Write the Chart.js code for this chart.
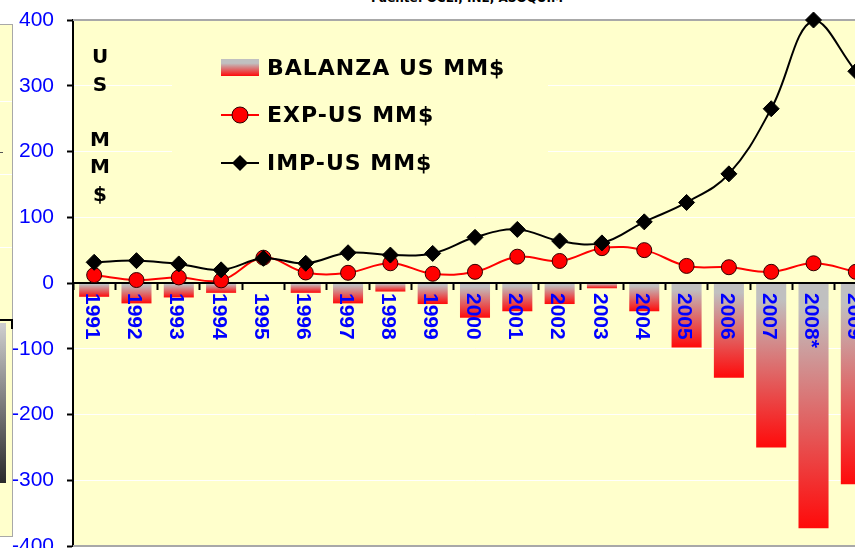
<!DOCTYPE html>
<html>
<head>
<meta charset="utf-8">
<script src="https://cdn.jsdelivr.net/npm/chart.js@4.4.1/dist/chart.umd.min.js"></script>
<style>
  html, body { margin: 0; padding: 0; background: #fff; overflow: hidden; width: 855px; height: 548px; }
  #wrap { position: absolute; left: 0; top: 0; width: 886px; height: 570px; }
  #fuente { position: absolute; left: 467px; top: -9px; transform: translateX(-50%); white-space: nowrap;
    font: bold 12px "DejaVu Sans", sans-serif; line-height: 14px; color: #000; }
  /* piece of the neighbouring chart cut off at the left */
  #left { position: absolute; left: 0; top: 24px; width: 12px; height: 511px; background: #ffffcc;
    border-top: 1px solid #a8a8a8; border-right: 1px solid #a8a8a8; border-bottom: 1px solid #a8a8a8; }
  #left .g { position: absolute; left: 0; width: 12px; height: 1px; background: #fff; }
  #left .tk { position: absolute; left: 0; top: 127px; width: 3px; height: 1px; background: #555; }
  #left .edge { position: absolute; left: 0; top: 294px; width: 13px; height: 10px;
    border-top: 2px solid #000; border-right: 2px solid #000; box-sizing: border-box; }
  #left .bar { position: absolute; left: 0; top: 298px; width: 6px; height: 160px;
    background: linear-gradient(#cfcfcf, #2a2a2a); }
</style>
</head>
<body>
<div id="left">
  <div class="g" style="top:76px"></div>
  <div class="g" style="top:149px"></div>
  <div class="g" style="top:222px"></div>
  <div class="tk"></div>
  <div class="edge"></div>
  <div class="bar"></div>
</div>
<div id="fuente">Fuente: OCEI, INE, ASOQUIM</div>
<div id="wrap"><canvas id="chart" width="886" height="570"></canvas></div>
<script>
const years = ['1991', '1992', '1993', '1994', '1995', '1996', '1997', '1998', '1999', '2000',
    '2001', '2002', '2003', '2004', '2005', '2006', '2007', '2008*', '2009'];
const balanza = [-21, -31, -22, -15, 1, -15, -31, -13, -32, -53, -43, -32, -8, -43, -98, -144, -250, -373, -306];
const exportaciones = [12, 4.5, 8.5, 4, 38.5, 16, 15.5, 30, 14, 17, 40, 33.5, 53, 50, 26, 24, 17, 30, 17];
const importaciones = [31.5, 34, 29, 20, 37.5, 30, 46, 42.5, 45, 69.5, 81.5, 64, 61, 93, 122.5, 166, 265, 400, 322];
const yTicks = [-400, -300, -200, -100, 0, 100, 200, 300, 400];

const plotBg = '#ffffcc';

function barGradient(ctx) {
    const chart = ctx.chart;
    if (!chart.chartArea || ctx.raw === undefined) {
        return '#c0c0c0';
    }
    const y = chart.scales.y;
    const y0 = y.getPixelForValue(0);
    const y1 = y.getPixelForValue(ctx.raw);
    if (Math.abs(y1 - y0) < 1) {
        return '#ff0000';
    }
    const g = chart.ctx.createLinearGradient(0, y0, 0, y1);
    g.addColorStop(0, '#c0c0c0');
    g.addColorStop(0.1, '#c0c0c0');
    g.addColorStop(1, '#ff0a0a');
    return g;
}

const decor = {
    id: 'decor',
    beforeDraw(chart) {
        const {ctx, chartArea} = chart;
        ctx.save();
        ctx.fillStyle = plotBg;
        ctx.fillRect(chartArea.left, chartArea.top, chart.width - chartArea.left, chartArea.bottom - chartArea.top);
        ctx.restore();
    },
    beforeDatasetsDraw(chart) {
        const {ctx, chartArea} = chart;
        ctx.save();
        // legend box hides the grid lines behind it
        ctx.fillStyle = plotBg;
        ctx.fillRect(172, 30, 376, 170);
        ctx.strokeStyle = '#a8a8a8';
        ctx.lineWidth = 2;
        ctx.beginPath();
        ctx.moveTo(chartArea.left, chartArea.top);
        ctx.lineTo(chart.width, chartArea.top);
        ctx.moveTo(chartArea.left, chartArea.bottom);
        ctx.lineTo(chart.width, chartArea.bottom);
        ctx.stroke();
        ctx.restore();
    },
    afterDatasetDraw(chart, args) {
        if (args.index !== 0) {
            return;
        }
        // zero line over the bars, under the lines
        const {ctx, chartArea} = chart;
        const y0 = chart.scales.y.getPixelForValue(0);
        ctx.save();
        ctx.strokeStyle = '#000';
        ctx.lineWidth = 2;
        ctx.beginPath();
        ctx.moveTo(chartArea.left, y0);
        ctx.lineTo(chart.width, y0);
        ctx.stroke();
        ctx.restore();
    },
    afterDatasetsDraw(chart) {
        const {ctx} = chart;
        const x = chart.scales.x;
        const y0 = chart.scales.y.getPixelForValue(0);
        ctx.save();
        ctx.fillStyle = '#0000ff';
        ctx.font = 'bold 21px "Liberation Sans", Arial, sans-serif';
        ctx.textAlign = 'left';
        ctx.textBaseline = 'middle';
        years.forEach((label, i) => {
            ctx.save();
            ctx.translate(x.getPixelForValue(i) - 2.5, y0 + 10);
            ctx.rotate(Math.PI / 2);
            ctx.fillText(label, 0, 0);
            ctx.restore();
        });
        ctx.restore();
    },
    afterDraw(chart) {
        const {ctx} = chart;
        const ds = chart.data.datasets;
        ctx.save();
        // vertical axis title
        ctx.fillStyle = '#000';
        ctx.font = 'bold 20px "DejaVu Sans", sans-serif';
        ctx.textAlign = 'center';
        ctx.textBaseline = 'middle';
        'US MM$'.split('').forEach((ch, i) => {
            ctx.fillText(ch, 100, 58 + i * 27.5);
        });

        // legend
        const sx = 221, sw = 38, tx = 267;
        const rows = [68, 115, 163];
        let g = ctx.createLinearGradient(0, 59, 0, 76);
        g.addColorStop(0, '#c0c0c0');
        g.addColorStop(0.25, '#c0c0c0');
        g.addColorStop(1, '#ff0a0a');
        ctx.fillStyle = g;
        ctx.fillRect(sx, 59, sw, 17);

        ctx.lineWidth = 2;
        ctx.strokeStyle = '#ff0000';
        ctx.beginPath();
        ctx.moveTo(sx, rows[1]);
        ctx.lineTo(sx + sw, rows[1]);
        ctx.stroke();
        ctx.beginPath();
        ctx.arc(sx + sw / 2, rows[1], 8, 0, Math.PI * 2);
        ctx.fillStyle = '#ff0000';
        ctx.fill();
        ctx.lineWidth = 1;
        ctx.strokeStyle = '#300000';
        ctx.stroke();

        ctx.lineWidth = 2;
        ctx.strokeStyle = '#000';
        ctx.beginPath();
        ctx.moveTo(sx, rows[2]);
        ctx.lineTo(sx + sw, rows[2]);
        ctx.stroke();
        const cx = sx + sw / 2;
        ctx.beginPath();
        ctx.moveTo(cx - 8, rows[2]);
        ctx.lineTo(cx, rows[2] - 8);
        ctx.lineTo(cx + 8, rows[2]);
        ctx.lineTo(cx, rows[2] + 8);
        ctx.closePath();
        ctx.fillStyle = '#000';
        ctx.fill();

        ctx.fillStyle = '#000';
        ctx.font = 'bold 22px "DejaVu Sans", sans-serif';
        ctx.letterSpacing = '1px';
        ctx.textAlign = 'left';
        ds.forEach((d, i) => {
            ctx.fillText(d.label, tx, rows[i] + 1);
        });
        ctx.restore();
    }
};

const chart = new Chart(document.getElementById('chart'), {
    type: 'bar',
    data: {
        labels: years,
        datasets: [{
            type: 'bar',
            label: 'BALANZA US MM$',
            data: balanza,
            backgroundColor: barGradient,
            borderWidth: 0,
            barPercentage: 0.71,
            categoryPercentage: 1,
            order: 3,
        }, {
            type: 'line',
            label: 'EXP-US MM$',
            data: exportaciones,
            borderColor: '#ff0000',
            borderWidth: 2,
            backgroundColor: '#ff0000',
            pointStyle: 'circle',
            pointRadius: 7.5,
            pointBorderColor: '#300000',
            pointBorderWidth: 1,
            pointBackgroundColor: '#ff0000',
            tension: 0.4,
            clip: false,
            order: 2,
        }, {
            type: 'line',
            label: 'IMP-US MM$',
            data: importaciones,
            borderColor: '#000',
            borderWidth: 2,
            backgroundColor: '#000',
            pointStyle: 'rectRot',
            pointRadius: 8,
            pointBorderColor: '#000',
            pointBorderWidth: 1,
            pointBackgroundColor: '#000',
            tension: 0.4,
            clip: false,
            order: 1,
        }]
    },
    options: {
        responsive: false,
        animation: false,
        events: [],
        layout: { padding: { left: 0, top: 20, right: 3, bottom: 24 } },
        plugins: {
            legend: { display: false },
            tooltip: { enabled: false },
        },
        scales: {
            x: {
                type: 'category',
                position: { y: 0 },
                offset: true,
                afterFit: (scale) => {
                    scale.height = 0;
                    scale.paddingLeft = 0;
                    scale.paddingRight = 0;
                },
                ticks: { display: false },
                grid: {
                    display: true,
                    offset: true,
                    drawOnChartArea: false,
                    drawTicks: true,
                    tickLength: 7,
                    tickColor: '#000',
                    tickWidth: 2,
                },
                border: { display: false },
            },
            y: {
                min: -400,
                max: 400,
                afterFit: (scale) => {
                    scale.width = 73;
                    // let layout.padding alone decide where the plot starts and ends
                    scale.paddingTop = 0;
                    scale.paddingBottom = 0;
                },
                afterBuildTicks: (scale) => {
                    scale.ticks = yTicks.map(v => ({ value: v }));
                },
                ticks: {
                    color: '#0000ff',
                    padding: 13,
                    font: { family: '"Liberation Sans", Arial, sans-serif', size: 21 },
                },
                grid: {
                    color: 'rgba(255,255,255,0.95)',
                    lineWidth: 1,
                    tickColor: '#000',
                    tickLength: 6,
                    tickWidth: 2,
                },
                border: { color: '#000', width: 2 },
            }
        }
    },
    plugins: [decor],
});
</script>
</body>
</html>
